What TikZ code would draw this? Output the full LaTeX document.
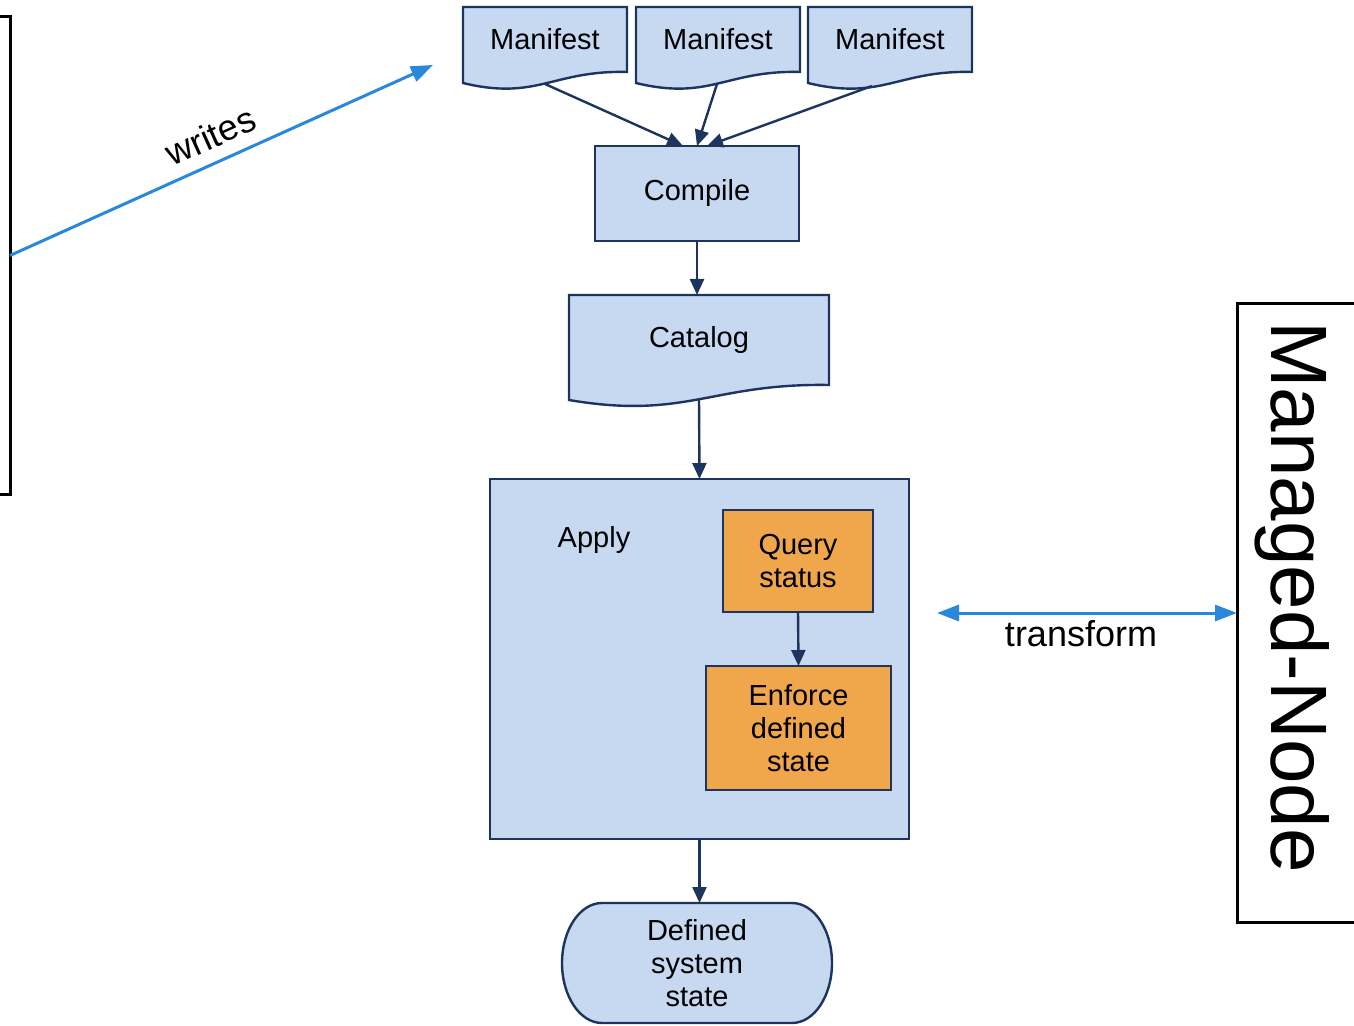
\documentclass[tikz,border=0pt]{standalone}
\usepackage{fontspec}
\setmainfont{Liberation Sans}
\usetikzlibrary{arrows.meta,calc,backgrounds}
\definecolor{boxblue}{RGB}{198,217,240}
\definecolor{boxline}{RGB}{28,52,94}
\definecolor{boxorange}{RGB}{240,166,74}
\definecolor{linkblue}{RGB}{42,136,220}
\tikzset{
  flowfont/.style={font=\fontsize{14.5}{16.5}\selectfont},
  flow/.style={flowfont, draw=boxline, line width=1.2pt, fill=boxblue, align=center, inner sep=0pt, outer sep=0pt},
  orangebox/.style={flow, fill=boxorange},
  docnode/.style={flowfont, align=center, inner sep=0pt, outer sep=0pt},
  shapeline/.style={draw=boxline, line width=1.2pt, fill=boxblue},
  flowarrow/.style={draw=boxline, line width=1.2pt, -{Triangle[length=8pt,width=7pt]}},
  linkarrow/.style={draw=linkblue, line width=1.5pt, -{Triangle[length=11pt,width=8pt]}},
  linkboth/.style={draw=linkblue, line width=1.5pt, {Triangle[length=11pt,width=8pt]}-{Triangle[length=11pt,width=8pt]}},
  frameline/.style={draw=black, line width=1.5pt},
  framenode/.style={inner sep=0pt, outer sep=0pt},
  lbl/.style={font=\fontsize{18}{21}\selectfont}
}
% document outline: node name, left-bottom drop, dip
\newcommand{\docoutline}[3]{%
  \path[shapeline] (#1.north west) -- (#1.north east) -- (#1.south east)
    .. controls ($(#1.south east)!0.45!(#1.south west)+(0,-2)$)
       and ($(#1.south west)!0.45!(#1.south east)+(0,#2+#3)$)
    .. ($(#1.south west)+(0,#2)$) -- cycle;}
\begin{document}
\begin{tikzpicture}[x=0.5pt,y=-0.5pt]
\useasboundingbox (0,0) rectangle (1354,1026);

% manifests
\node[docnode, minimum width=82pt, minimum height=32.5pt] (m1) at (545,39.5) {Manifest};
\node[docnode, minimum width=82pt, minimum height=32.5pt] (m2) at (718,39.5) {Manifest};
\node[docnode, minimum width=82pt, minimum height=32.5pt] (m3) at (890,39.5) {Manifest};
% compile, catalog
\node[flow, minimum width=102pt, minimum height=47.5pt] (comp) at (697,193.5) {Compile};
\node[docnode, minimum width=130pt, minimum height=45pt] (cat) at (699,340) {Catalog};
% apply
\node[flow, minimum width=209.5pt, minimum height=180pt] (apply) at (699.5,659) {};
\node[flowfont, inner sep=0pt] (applylbl) at (594,540) {Apply};
\node[orangebox, minimum width=75pt, minimum height=51pt] (query) at (798,561) {Query\\status};
\node[orangebox, minimum width=92.5pt, minimum height=62pt] (enf) at (798.5,728) {Enforce\\defined\\state};
% defined system state
\node[docnode, minimum width=135pt, minimum height=60pt] (def) at (697,963) {Defined\\system\\state};

\begin{scope}[on background layer]
  \docoutline{m1}{11}{18}
  \docoutline{m2}{11}{18}
  \docoutline{m3}{11}{18}
  \docoutline{cat}{15}{20}
  \path[shapeline] ($(def.north west)+(40,0)$) -- ($(def.north east)+(-40,0)$)
    arc[start angle=-90, end angle=90, x radius=40, y radius=60]
    -- ($(def.south west)+(40,0)$)
    arc[start angle=90, end angle=270, x radius=40, y radius=60] -- cycle;
\end{scope}

% flow arrows
\draw[flowarrow] ($(m1.south)+(0,12)$) -- ($(comp.north)+(-14,0)$);
\draw[flowarrow] ($(m2.south)+(-1,12)$) -- (comp.north);
\draw[flowarrow] ($(m3.south)+(-18,14)$) -- ($(comp.north)+(10,0)$);
\draw[flowarrow] (comp.south) -- (comp.south |- cat.north);
\draw[flowarrow] ($(cat.south)+(0,14)$) -- (apply.north);
\draw[flowarrow] (query.south) -- (enf.north);
\draw[flowarrow] (apply.south) -- (apply.south |- def.north);

% left frame
\node[framenode, minimum width=5pt, minimum height=238.5pt] (dev) at (5,255.5) {};
\draw[frameline] (dev.north west) -- (dev.north east) -- (dev.south east) -- (dev.south west);

% managed node frame
\node[framenode, minimum width=58.5pt, minimum height=309pt] (mn) at (1295.5,613) {};
\draw[frameline] (mn.north east) -- (mn.north west) -- (mn.south west) -- (mn.south east);
\node[font=\fontsize{40}{45}\selectfont, rotate=-90, inner sep=0pt] (mnlabel) at (1292,597) {Managed-Node};

% writes
\coordinate (wend) at (433,65);
\draw[linkarrow] (dev.east) -- node[midway, sloped, above, lbl, inner sep=6pt] (wlbl) {writes} (wend);

% transform
\coordinate (tstart) at (937,613);
\draw[linkboth] (tstart) -- node[midway, below, lbl, inner sep=3pt, xshift=-3pt] (tlbl) {transform} (mn.west);
\end{tikzpicture}
\end{document}
